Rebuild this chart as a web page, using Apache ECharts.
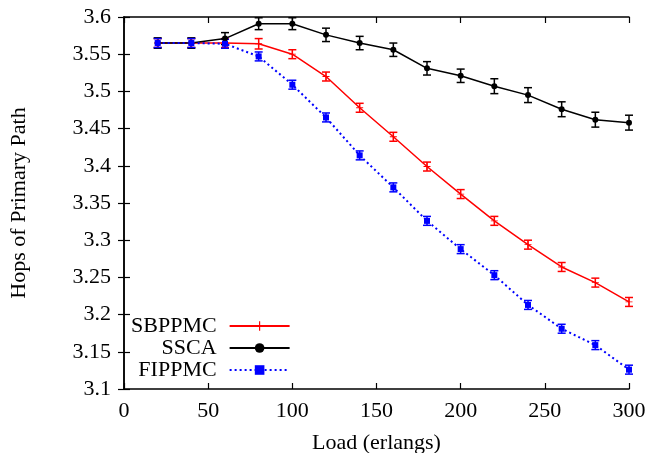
<!DOCTYPE html>
<html>
<head>
<meta charset="utf-8">
<script src="https://cdn.jsdelivr.net/npm/echarts@6/dist/echarts.min.js"></script>
<style>html,body{margin:0;padding:0;background:#fff;}#c{width:650px;height:453px;}</style>
</head>
<body>
<div id="c"></div>
<script>
var loads = [20, 40, 60, 80, 100, 120, 140, 160, 180, 200, 220, 240, 260, 280, 300];
var sbppmc = [3.565, 3.565, 3.565, 3.564, 3.550, 3.520, 3.478, 3.439, 3.399, 3.362, 3.326, 3.294, 3.264, 3.243, 3.217];
var ssca   = [3.565, 3.565, 3.571, 3.591, 3.591, 3.576, 3.565, 3.556, 3.531, 3.521, 3.507, 3.495, 3.476, 3.462, 3.458];
var fippmc = [3.565, 3.565, 3.564, 3.547, 3.509, 3.465, 3.414, 3.371, 3.326, 3.288, 3.253, 3.213, 3.181, 3.159, 3.126];
var sbppmcErr = [0.006, 0.006, 0.006, 0.007, 0.006, 0.006, 0.006, 0.006, 0.006, 0.006, 0.006, 0.006, 0.006, 0.006, 0.006];
var sscaErr   = [0.007, 0.007, 0.008, 0.008, 0.008, 0.009, 0.009, 0.009, 0.009, 0.009, 0.010, 0.010, 0.010, 0.010, 0.010];
var fippmcErr = [0.006, 0.006, 0.006, 0.006, 0.006, 0.006, 0.006, 0.006, 0.006, 0.006, 0.006, 0.006, 0.006, 0.006, 0.006];
var xTicks = [0, 50, 100, 150, 200, 250, 300];
var yTicks = [3.1, 3.15, 3.2, 3.25, 3.3, 3.35, 3.4, 3.45, 3.5, 3.55, 3.6];

var FONT = 'Liberation Serif';
var FS = 22;
function pairs(ys){ return loads.map(function(x,i){ return [x, ys[i]]; }); }
function errData(ys, es){ return loads.map(function(x,i){ return [x, ys[i]-es[i], ys[i]+es[i]]; }); }
function errSeries(name, ys, es, color){
  return {
    name: name, type: 'custom', z: 3,
    data: errData(ys, es),
    renderItem: function(params, api){
      var lo = api.coord([api.value(0), api.value(1)]);
      var hi = api.coord([api.value(0), api.value(2)]);
      var w = 4;
      var st = {stroke: color, lineWidth: 1.5};
      return {type: 'group', children: [
        {type:'line', shape:{x1:lo[0], y1:lo[1], x2:hi[0], y2:hi[1]}, style: st},
        {type:'line', shape:{x1:lo[0]-w, y1:lo[1], x2:lo[0]+w, y2:lo[1]}, style: st},
        {type:'line', shape:{x1:hi[0]-w, y1:hi[1], x2:hi[0]+w, y2:hi[1]}, style: st}
      ]};
    }
  };
}
var axisLine = {show: true, lineStyle: {color: '#000', width: 1.5}};
var tickIn = {show: true, inside: true, length: 6, lineStyle: {color: '#000', width: 1.2}};
var plusPath = 'path://M0,4.4H10V5.6H0Z M4.4,0H5.6V10H4.4Z';

var chart = echarts.init(document.getElementById('c'), null, {renderer: 'canvas'});
chart.setOption({
  animation: false,
  backgroundColor: '#fff',
  grid: {left: 124, right: 21, top: 17, bottom: 64, containLabel: false, outerBoundsMode: 'none'},
  xAxis: [{
    type: 'value', min: 0, max: 300, interval: 50, position: 'bottom',
    name: 'Load (erlangs)', nameLocation: 'middle', nameGap: 43,
    nameTextStyle: {fontFamily: FONT, fontSize: FS, color: '#000'},
    axisLine: axisLine, axisTick: tickIn, splitLine: {show: false},
    axisLabel: {fontFamily: FONT, fontSize: FS, color: '#000', margin: 11}
  }, {
    type: 'value', min: 0, max: 300, interval: 50, position: 'top',
    axisLine: axisLine, axisTick: tickIn, splitLine: {show: false}, axisLabel: {show: false}
  }],
  yAxis: [{
    type: 'value', min: 3.1, max: 3.6, interval: 0.05, position: 'left',
    name: 'Hops of Primary Path', nameLocation: 'middle', nameGap: 94,
    nameTextStyle: {fontFamily: FONT, fontSize: FS, color: '#000'},
    axisLine: axisLine, axisTick: tickIn, splitLine: {show: false},
    axisLabel: {fontFamily: FONT, fontSize: FS, color: '#000', margin: 13,
      formatter: function(v){ return String(Math.round(v*100)/100); }}
  }, {
    type: 'value', min: 3.1, max: 3.6, interval: 0.05, position: 'right',
    axisLine: axisLine, axisTick: tickIn, splitLine: {show: false}, axisLabel: {show: false}
  }],
  legend: {
    data: ['SBPPMC', 'SSCA', 'FIPPMC'],
    orient: 'vertical', align: 'right', left: 131, top: 315, padding: 0,
    itemWidth: 60, itemHeight: 12, itemGap: 0,
    textStyle: {fontFamily: FONT, fontSize: FS, color: '#000', padding: [0, 8, 0, 0]}
  },
  series: [
    {name: 'SBPPMC', type: 'line', data: pairs(sbppmc), color: '#ff0000', z: 4,
     symbol: plusPath, symbolSize: 7, lineStyle: {width: 1.5, color: '#ff0000'}, itemStyle: {color: '#ff0000'}},
    {name: 'SSCA', type: 'line', data: pairs(ssca), color: '#000000', z: 4,
     symbol: 'circle', symbolSize: 6, lineStyle: {width: 1.5, color: '#000'}, itemStyle: {color: '#000'}},
    {name: 'FIPPMC', type: 'line', data: pairs(fippmc), color: '#0000ff', z: 4,
     symbol: 'rect', symbolSize: 6, lineStyle: {width: 2, color: '#0000ff', type: [2, 3]}, itemStyle: {color: '#0000ff'}},
    errSeries('SBPPMC-err', sbppmc, sbppmcErr, '#ff0000'),
    errSeries('SSCA-err', ssca, sscaErr, '#000000'),
    errSeries('FIPPMC-err', fippmc, fippmcErr, '#0000ff')
  ]
});
</script>
</body>
</html>
